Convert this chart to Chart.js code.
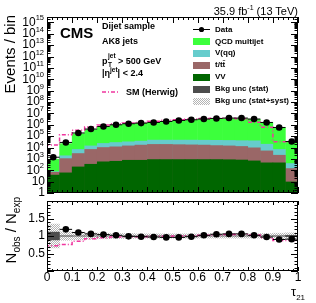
<!DOCTYPE html>
<html>
<head>
<meta charset="utf-8">
<title>tau21 dijet</title>
<script src="https://cdn.jsdelivr.net/npm/chart.js@4.4.1/dist/chart.umd.min.js"></script>
<style>
  html, body { margin: 0; padding: 0; background: #fff; }
  body { position: relative; width: 316px; height: 303px; overflow: hidden;
         font-family: "Liberation Sans", Arial, sans-serif; color: #000; }
  canvas { position: absolute; left: 0; }
  #mainChart { top: 0; }
  #ratioChart { top: 197px; }
  .txt { position: absolute; white-space: nowrap; line-height: 1; }
  .info { font-size: 9px; font-weight: bold; left: 102px; }
  .leg { font-size: 8px; font-weight: bold; left: 215px; }
  .sw { position: absolute; left: 193px; width: 17px; height: 7px; }
  .hatch { background-image: repeating-conic-gradient(#b4b4b4 0 25%, #fff 0 50%); background-size: 2px 2px; }
  sup, sub { line-height: 0; }
  .ss { display: inline-flex; flex-direction: column; font-size: 6.5px; line-height: 9px; vertical-align: 5.5px; margin-left: 0.5px; }
  .rot { transform-origin: 0 0; transform: rotate(-90deg); text-align: right; width: 150px; }
</style>
</head>
<body>
<canvas id="mainChart" width="316" height="197"></canvas>
<canvas id="ratioChart" width="316" height="106"></canvas>

<div class="txt" style="right:18px; top:6px; font-size:11px;">35.9 fb<sup style="font-size:7px;">-1</sup> (13 TeV)</div>
<div class="txt" style="left:60px; top:25px; font-size:15px; font-weight:bold;">CMS</div>
<div class="txt info" style="top:22px;">Dijet sample</div>
<div class="txt info" style="top:37px;">AK8 jets</div>
<div class="txt info" style="top:51px;">p<span class="ss"><span>jet</span><span>T</span></span> &gt; 500 GeV</div>
<div class="txt info" style="top:69px;">|&eta;<sup style="font-size:6.5px;">jet</sup>| &lt; 2.4</div>
<svg style="position:absolute; left:102px; top:88px;" width="18" height="8"><line x1="0" y1="4" x2="18" y2="4" stroke="#f0369f" stroke-width="1.5" stroke-dasharray="4 2 1 2"/></svg>
<div class="txt info" style="left:126px; top:88px;">SM (Herwig)</div>

<svg style="position:absolute; left:193px; top:26px;" width="17" height="7"><line x1="0" y1="3.5" x2="17" y2="3.5" stroke="#000" stroke-width="1"/><circle cx="8.5" cy="3.5" r="2.6" fill="#000"/></svg>
<div class="txt leg" style="top:25.6px;">Data</div>
<div class="sw" style="top:38px; background:#3cff3c;"></div>
<div class="txt leg" style="top:37.6px;">QCD multijet</div>
<div class="sw" style="top:49.5px; background:#66cccc;"></div>
<div class="txt leg" style="top:49.1px;">V(qq)</div>
<div class="sw" style="top:61.5px; background:#9a6767;"></div>
<div class="txt leg" style="top:61.1px;">t/tt&#772;</div>
<div class="sw" style="top:73.5px; background:#006600;"></div>
<div class="txt leg" style="top:73.1px;">VV</div>
<div class="sw" style="top:85.5px; background:#4d4d4d;"></div>
<div class="txt leg" style="top:85.1px;">Bkg unc (stat)</div>
<div class="sw hatch" style="top:97.5px;"></div>
<div class="txt leg" style="top:97.1px;">Bkg unc (stat+syst)</div>

<div class="txt rot" style="left:1.5px; top:165px; font-size:15px;">Events / bin</div>
<div class="txt rot" style="left:3px; top:347px; font-size:15px;">N<sub style="font-size:10px;">obs</sub> / N<sub style="font-size:10px;">exp</sub></div>
<div class="txt" style="left:291px; top:285px; font-size:13px;">&tau;<sub style="font-size:8px;">21</sub></div>

<script>
// bins of tau21 (width 0.05)
const binCenters = [0.025, 0.075, 0.125, 0.175, 0.225, 0.275, 0.325, 0.375, 0.425, 0.475,
                    0.525, 0.575, 0.625, 0.675, 0.725, 0.775, 0.825, 0.875, 0.925, 0.975];
const binHalfWidth = 0.025;

// event yields per bin
const dataEvents = [1400, 28000, 190000, 420000, 710000, 1000000, 1230000, 1400000, 1600000, 1960000,
                    2400000, 2760000, 3200000, 3600000, 3900000, 3900000, 3200000, 1600000, 580000, 34000];
const qcdYield = [920, 21500, 166000, 381000, 658000, 950000, 1206000, 1391000, 1602000, 1992000,
                  2452000, 2772000, 3093000, 3384000, 3635000, 3637000, 3098000, 1629000, 633000, 36600];
const vqqYield = [9, 880, 4080, 7560, 13800, 17200, 19100, 21500, 27900, 27900,
                  28900, 29700, 29400, 29900, 29900, 29500, 31700, 15500, 5000, 266];
const ttbarYield = [31, 1060, 2950, 6880, 10100, 11600, 14000, 16600, 19100, 19100,
                    18100, 17300, 16500, 14900, 13900, 12400, 9300, 4900, 1760, 141];
const vvYield = [40, 63, 210, 360, 590, 660, 810, 810, 930, 930,
                 930, 930, 930, 930, 900, 850, 710, 480, 480, 10];
const herwigEvents = [1800, 17000, 131000, 337000, 628000, 931000, 1200000, 1400000, 1620000, 2020000,
                      2480000, 2820000, 3170000, 3500000, 3790000, 3830000, 3300000, 1700000, 608000, 32000];

// ratio panel
const dataRatio = [null, 1.19, 1.10, 1.06, 1.04, 1.02, 0.99, 0.98, 0.97, 0.96,
                   0.96, 0.98, 1.02, 1.05, 1.06, 1.06, 1.02, 0.97, 0.90, 0.91];
const herwigRatio = [1.8, 0.72, 0.76, 0.85, 0.92, 0.95, 0.97, 0.98, 0.98, 0.99,
                     0.99, 1.0, 1.01, 1.02, 1.03, 1.04, 1.05, 1.03, 0.95, 0.87];
const statUnc = [0.12, 0.015, 0.012, 0.01, 0.01, 0.01, 0.01, 0.01, 0.01, 0.01,
                 0.01, 0.01, 0.01, 0.01, 0.01, 0.01, 0.01, 0.012, 0.015, 0.03];
const totUnc = [0.35, 0.13, 0.12, 0.1, 0.09, 0.08, 0.08, 0.07, 0.07, 0.07,
                0.07, 0.07, 0.07, 0.07, 0.07, 0.07, 0.07, 0.08, 0.09, 0.1];

// axis labels
const xTickValues = [0, 0.1, 0.2, 0.3, 0.4, 0.5, 0.6, 0.7, 0.8, 0.9, 1];
const xTickLabels = ['0', '0.1', '0.2', '0.3', '0.4', '0.5', '0.6', '0.7', '0.8', '0.9', '1'];
const ratioTickValues = [0.5, 1, 1.5];
const ratioTickLabels = ['0.5', '1', '1.5'];
const logExponents = [0, 1, 2, 3, 4, 5, 6, 7, 8, 9, 10, 11, 12, 13, 14, 15];

const FONT = '"Liberation Sans", Arial, sans-serif';
const PINK = '#f0369f';

function cumulate(...layers) {
  return binCenters.map((_, i) => layers.reduce((s, l) => s + l[i], 0));
}
function barPoints(values) {
  return binCenters.map((c, i) => ({ x: c, y: values[i] }));
}
function bandPoints(unc) {
  return binCenters.map((c, i) => ({ x: c, y: [1 - unc[i], 1 + unc[i]] }));
}
function markerPoints(values) {
  return binCenters.map((c, i) => ({ x: c, y: values[i] })).filter(p => p.y != null);
}
function xErrSegments(values) {
  const out = [];
  binCenters.forEach((c, i) => {
    if (values[i] == null) return;
    out.push({ x: c - binHalfWidth, y: values[i] }, { x: c + binHalfWidth, y: values[i] }, { x: c + binHalfWidth, y: null });
  });
  return out;
}
function stepPoints(values) {
  const pts = binCenters.map((c, i) => ({ x: c - binHalfWidth, y: values[i] }));
  pts.push({ x: binCenters[binCenters.length - 1] + binHalfWidth, y: values[values.length - 1] });
  return pts;
}

function makeHatch(ctx) {
  const c = document.createElement('canvas');
  c.width = 2; c.height = 2;
  const g = c.getContext('2d');
  g.fillStyle = '#b4b4b4';
  g.fillRect(0, 0, 1, 1);
  g.fillRect(1, 1, 1, 1);
  return ctx.createPattern(c, 'repeat');
}

// ROOT style frame with inward ticks on all four sides
function drawFrame(chart, xMajorLen, xMinorLen, yTicks, yMajorLen, yMinorLen) {
  const ctx = chart.ctx;
  const a = chart.chartArea;
  const xs = chart.scales.x, ys = chart.scales.y;
  ctx.save();
  ctx.strokeStyle = '#000';
  ctx.lineWidth = 1;
  ctx.beginPath();
  for (let i = 0; i <= 50; i++) {
    const px = Math.round(xs.getPixelForValue(i / 50)) + 0.5;
    const len = i % 5 === 0 ? xMajorLen : xMinorLen;
    ctx.moveTo(px, a.bottom); ctx.lineTo(px, a.bottom - len);
    ctx.moveTo(px, a.top); ctx.lineTo(px, a.top + len);
  }
  yTicks.forEach(t => {
    const py = Math.round(ys.getPixelForValue(t.v)) + 0.5;
    const len = t.major ? yMajorLen : yMinorLen;
    ctx.moveTo(a.left, py); ctx.lineTo(a.left + len, py);
    ctx.moveTo(a.right, py); ctx.lineTo(a.right - len, py);
  });
  ctx.stroke();
  ctx.strokeRect(Math.round(a.left) + 0.5, Math.round(a.top) + 0.5,
                 Math.round(a.right - a.left) - 1, Math.round(a.bottom - a.top) - 1);
  ctx.restore();
}

const mainAxes = {
  id: 'mainAxes',
  afterDraw(chart) {
    const ys = chart.scales.y;
    const ticks = [];
    logExponents.forEach(n => {
      for (let m = 1; m <= 9; m++) {
        const v = m * Math.pow(10, n);
        if (v <= ys.max) ticks.push({ v: v, major: m === 1 });
      }
    });
    drawFrame(chart, 6, 3, ticks, 7, 3.5);
    const ctx = chart.ctx;
    ctx.save();
    ctx.fillStyle = '#000';
    ctx.textAlign = 'right';
    ctx.textBaseline = 'middle';
    logExponents.forEach(n => {
      const py = ys.getPixelForValue(Math.pow(10, n));
      ctx.font = '12px ' + FONT;
      if (n === 0) { ctx.fillText('1', 45, py); return; }
      if (n === 1) { ctx.fillText('10', 45, py); return; }
      ctx.font = '7.5px ' + FONT;
      const e = String(n);
      const w = ctx.measureText(e).width;
      ctx.fillText(e, 44, py - 4);
      ctx.font = '12px ' + FONT;
      ctx.fillText('10', 44 - w, py);
    });
    ctx.restore();
  }
};

const ratioAxes = {
  id: 'ratioAxes',
  afterDraw(chart) {
    const ticks = [];
    for (let i = 0; i <= 20; i++) ticks.push({ v: i / 10, major: i % 5 === 0 });
    drawFrame(chart, 4, 2, ticks, 7, 3.5);
    const ctx = chart.ctx;
    const xs = chart.scales.x, ys = chart.scales.y;
    ctx.save();
    ctx.fillStyle = '#000';
    ctx.font = '12px ' + FONT;
    ctx.textAlign = 'right';
    ctx.textBaseline = 'middle';
    ratioTickValues.forEach((v, i) => ctx.fillText(ratioTickLabels[i], 45, ys.getPixelForValue(v)));
    ctx.textAlign = 'center';
    ctx.textBaseline = 'alphabetic';
    xTickValues.forEach((v, i) => ctx.fillText(xTickLabels[i], xs.getPixelForValue(v), 84));
    ctx.restore();
  }
};

function baseScales(yScale, xHeight) {
  return {
    x: {
      type: 'linear', min: 0, max: 1, offset: false,
      grid: { display: false }, border: { display: false },
      ticks: { display: false, stepSize: 0.1 },
      afterFit: s => { s.height = xHeight; }
    },
    y: Object.assign({
      grid: { display: false }, border: { display: false },
      ticks: { display: false },
      afterFit: s => { s.width = 47; }
    }, yScale)
  };
}

const barStyle = { grouped: false, barPercentage: 1.04, categoryPercentage: 1, borderWidth: 0 };

const vvTop = cumulate(vvYield);
const ttTop = cumulate(vvYield, ttbarYield);
const vqqTop = cumulate(vvYield, ttbarYield, vqqYield);
const totalTop = cumulate(vvYield, ttbarYield, vqqYield, qcdYield);

new Chart(document.getElementById('mainChart'), {
  type: 'bar',
  data: {
    datasets: [
      { type: 'line', label: 'Data', data: markerPoints(dataEvents), showLine: false,
        pointRadius: 3.3, pointBackgroundColor: '#000', pointBorderWidth: 0, order: 0 },
      { type: 'line', label: 'Data bins', data: xErrSegments(dataEvents), borderColor: '#000',
        borderWidth: 1, pointRadius: 0, spanGaps: false, order: 1 },
      { type: 'line', label: 'SM (Herwig)', data: stepPoints(herwigEvents), stepped: 'after',
        borderColor: PINK, borderWidth: 1.5, borderDash: [4, 2, 1, 2], pointRadius: 0, order: 2 },
      Object.assign({ label: 'VV', data: barPoints(vvTop), backgroundColor: '#006600', order: 3 }, barStyle),
      Object.assign({ label: 't/tt', data: barPoints(ttTop), backgroundColor: '#9a6767', order: 4 }, barStyle),
      Object.assign({ label: 'V(qq)', data: barPoints(vqqTop), backgroundColor: '#66cccc', order: 5 }, barStyle),
      Object.assign({ label: 'QCD multijet', data: barPoints(totalTop), backgroundColor: '#3cff3c', order: 6 }, barStyle)
    ]
  },
  options: {
    responsive: false,
    animation: false,
    events: [],
    layout: { padding: { left: 0, right: 18, top: 17, bottom: 0 } },
    plugins: { legend: { display: false }, tooltip: { enabled: false } },
    scales: baseScales({ type: 'logarithmic', min: 1, max: 3e15 }, 4)
  },
  plugins: [mainAxes]
});

const ratioCanvas = document.getElementById('ratioChart');
new Chart(ratioCanvas, {
  type: 'bar',
  data: {
    datasets: [
      { type: 'line', label: 'Data', data: markerPoints(dataRatio), showLine: false,
        pointRadius: 3.3, pointBackgroundColor: '#000', pointBorderWidth: 0, order: 0 },
      { type: 'line', label: 'Data bins', data: xErrSegments(dataRatio), borderColor: '#000',
        borderWidth: 1, pointRadius: 0, spanGaps: false, order: 1 },
      { type: 'line', label: 'SM (Herwig)', data: stepPoints(herwigRatio), stepped: 'after',
        borderColor: PINK, borderWidth: 1.5, borderDash: [4, 2, 1, 2], pointRadius: 0, order: 2 },
      Object.assign({ label: 'Bkg unc (stat)', data: bandPoints(statUnc), backgroundColor: '#4d4d4d', order: 3 }, barStyle),
      Object.assign({ label: 'Bkg unc (stat+syst)', data: bandPoints(totUnc),
        backgroundColor: makeHatch(ratioCanvas.getContext('2d')), order: 4 }, barStyle)
    ]
  },
  options: {
    responsive: false,
    animation: false,
    events: [],
    layout: { padding: { left: 0, right: 18, top: 1, bottom: 0 } },
    plugins: { legend: { display: false }, tooltip: { enabled: false } },
    scales: baseScales({ type: 'linear', min: 0, max: 2 }, 32)
  },
  plugins: [ratioAxes]
});
</script>
</body>
</html>
